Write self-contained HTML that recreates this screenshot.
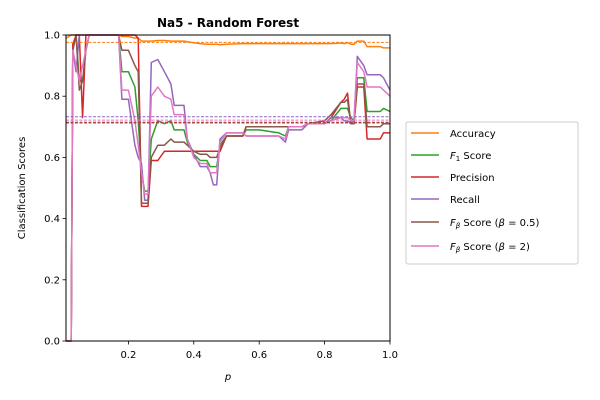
<!DOCTYPE html>
<html><head><meta charset="utf-8"><style>
html,body{margin:0;padding:0;background:#fff;width:600px;height:400px;overflow:hidden}
svg{display:block;font-family:"DejaVu Sans","Liberation Sans",sans-serif}
</style></head><body>
<svg id="chart" width="600" height="400"></svg>
<script>
const xs=[0.01,0.025,0.03,0.04,0.05,0.06,0.07,0.08,0.10,0.15,0.17,0.18,0.20,0.22,0.23,0.24,0.25,0.26,0.27,0.29,0.31,0.33,0.34,0.37,0.38,0.40,0.42,0.44,0.45,0.46,0.47,0.48,0.50,0.55,0.56,0.60,0.66,0.68,0.69,0.73,0.75,0.80,0.82,0.85,0.86,0.87,0.88,0.89,0.90,0.92,0.93,0.97,0.98,1.00];
const accuracy=[0.99,1,1,1,1,1,1,1, 1,1,1,0.995,0.995, 0.99,0.99,0.98,0.98,0.98,0.98,0.982, 0.982,0.98,0.98,0.98,0.978,0.975, 0.972,0.97,0.97,0.97,0.97,0.968, 0.97,0.972,0.972,0.972,0.972,0.972, 0.972,0.972,0.972,0.972,0.972,0.974, 0.972,0.975,0.97,0.97,0.98,0.98, 0.962,0.962,0.958,0.958];
const f1=[0,0,0.95,1,0.85,0.85,0.95,1, 1,1,1,0.88,0.88, 0.83,0.72,0.55,0.49,0.49,0.66,0.72, 0.71,0.72,0.69,0.69,0.65,0.61, 0.59,0.59,0.57,0.57,0.57,0.64, 0.67,0.67,0.69,0.69,0.68,0.67, 0.70,0.70,0.71,0.71,0.72,0.76, 0.76,0.76,0.73,0.72,0.86,0.86, 0.75,0.75,0.76,0.75];
const precision=[0,0,0.97,1,1,0.73,1,1, 1,1,1,1,1, 1,0.99,0.44,0.44,0.44,0.59,0.59, 0.62,0.62,0.62,0.62,0.62,0.62, 0.62,0.62,0.62,0.62,0.62,0.62, 0.67,0.67,0.70,0.70,0.70,0.70, 0.70,0.70,0.71,0.71,0.73,0.78, 0.79,0.81,0.71,0.71,0.83,0.83, 0.66,0.66,0.68,0.68];
const recall=[0,0,0.95,0.88,1,1,1,1, 1,1,1,0.79,0.79, 0.64,0.60,0.58,0.46,0.46,0.91,0.92, 0.88,0.84,0.77,0.77,0.66,0.61, 0.57,0.57,0.55,0.51,0.51,0.66, 0.68,0.68,0.67,0.67,0.67,0.65, 0.69,0.69,0.71,0.71,0.73,0.73, 0.72,0.72,0.71,0.72,0.93,0.90, 0.87,0.87,0.86,0.82];
const fb05=[0,0,0.95,1,0.82,0.85,0.95,1, 1,1,1,0.95,0.95, 0.90,0.88,0.45,0.45,0.45,0.60,0.64, 0.64,0.66,0.65,0.65,0.64,0.62, 0.61,0.61,0.60,0.60,0.60,0.63, 0.67,0.67,0.70,0.70,0.70,0.70, 0.70,0.70,0.71,0.72,0.74,0.78, 0.78,0.79,0.71,0.71,0.84,0.84, 0.70,0.70,0.71,0.71];
const fb2=[0,0,0.95,0.9,0.85,0.9,0.95,1, 1,1,1,0.82,0.82, 0.72,0.64,0.55,0.48,0.48,0.80,0.83, 0.80,0.79,0.74,0.74,0.66,0.60, 0.58,0.58,0.55,0.55,0.55,0.65, 0.68,0.68,0.67,0.67,0.67,0.66, 0.70,0.70,0.71,0.71,0.72,0.73, 0.73,0.73,0.72,0.72,0.91,0.88, 0.83,0.83,0.82,0.80];
const means=[0.976,0.713,0.715,0.733,0.713,0.722];
const seriesNames=["Accuracy","F1 Score","Precision","Recall","Fbeta 0.5","Fbeta 2"];
const colors=["#ff7f0e","#2ca02c","#d62728","#9467bd","#8c564b","#e377c2"];
const xTicks=[0.2,0.4,0.6,0.8,1.0];
const xTickLabels=["0.2","0.4","0.6","0.8","1.0"];
const yTicks=[0,0.2,0.4,0.6,0.8,1.0];
const yTickLabels=["0.0","0.2","0.4","0.6","0.8","1.0"];

const NS="http://www.w3.org/2000/svg";
const svg=document.getElementById('chart');
const L=66,R=390,T=35,B=341;
const xMin=0.0092,xMax=1.0;
const X=v=>L+(v-xMin)/(xMax-xMin)*(R-L);
const Y=v=>B-v*(B-T);
function mk(tag,attrs,parent){const e=document.createElementNS(NS,tag);for(const k in attrs)e.setAttribute(k,attrs[k]);(parent||svg).appendChild(e);return e;}

const clip=mk('clipPath',{id:'pc'});mk('rect',{x:L,y:T-1,width:R-L,height:B-T+2},clip);
const plot=mk('g',{'clip-path':'url(#pc)'});



const allSeries=[accuracy,f1,precision,recall,fb05,fb2];
allSeries.forEach((s,i)=>{
  const d=s.map((v,j)=>(j?'L':'M')+X(xs[j]).toFixed(1)+','+Y(v).toFixed(1)).join('');
  const p=mk('path',{d:d,fill:'none',stroke:colors[i],'stroke-width':1.5,'stroke-linejoin':'round'},plot);
  
  
});
means.forEach((m,i)=>{
  const l=mk('line',{x1:L,x2:R,y1:Y(m),y2:Y(m),stroke:colors[i],'stroke-width':1,'stroke-dasharray':'3,1.5'},plot);
  
  
});
const frame=mk('rect',{x:L,y:T,width:R-L,height:B-T,fill:'none',stroke:'#000','stroke-width':1});



xTicks.forEach((t,i)=>{
  mk('line',{x1:X(t),x2:X(t),y1:B,y2:B+3.5,stroke:'#000','stroke-width':0.8});
  const tx=mk('text',{x:X(t),y:B+17,'font-size':10,'text-anchor':'middle'});tx.textContent=xTickLabels[i];
  
  
});
yTicks.forEach((t,i)=>{
  mk('line',{x1:L-3.5,x2:L,y1:Y(t),y2:Y(t),stroke:'#000','stroke-width':0.8});
  const tx=mk('text',{x:L-6,y:Y(t)+3.5,'font-size':10,'text-anchor':'end'});tx.textContent=yTickLabels[i];
  
  
});
</script>
<svg width="600" height="400" style="position:absolute;left:0;top:0">
<text x="228" y="27" font-size="12" font-weight="bold" text-anchor="middle">Na5 - Random Forest</text>
<text x="228" y="380" font-size="10" font-style="italic" text-anchor="middle">p</text>
<text transform="translate(25,188) rotate(-90)" font-size="10" text-anchor="middle">Classification Scores</text>
<g font-size="10">
<rect x="406" y="122" width="172" height="142" rx="2" fill="#fff" stroke="#ccc"/>
<g><line x1="411" x2="439" y1="133" y2="133" stroke="#ff7f0e" stroke-width="1.5"/><text x="450" y="137">Accuracy</text></g>
<g><line x1="411" x2="439" y1="155" y2="155" stroke="#2ca02c" stroke-width="1.5"/><text x="450" y="159"><tspan font-style="italic">F</tspan><tspan font-size="7" dy="2">1</tspan><tspan dy="-2"> Score</tspan></text></g>
<g><line x1="411" x2="439" y1="177" y2="177" stroke="#d62728" stroke-width="1.5"/><text x="450" y="181">Precision</text></g>
<g><line x1="411" x2="439" y1="199" y2="199" stroke="#9467bd" stroke-width="1.5"/><text x="450" y="203">Recall</text></g>
<g><line x1="411" x2="439" y1="222" y2="222" stroke="#8c564b" stroke-width="1.5"/><text x="450" y="226"><tspan font-style="italic">F</tspan><tspan font-size="7" dy="2" font-style="italic">β</tspan><tspan dy="-2"> Score (</tspan><tspan font-style="italic">β</tspan><tspan> = 0.5)</tspan></text></g>
<g><line x1="411" x2="439" y1="246" y2="246" stroke="#e377c2" stroke-width="1.5"/><text x="450" y="250"><tspan font-style="italic">F</tspan><tspan font-size="7" dy="2" font-style="italic">β</tspan><tspan dy="-2"> Score (</tspan><tspan font-style="italic">β</tspan><tspan> = 2)</tspan></text></g>
</g>
</svg>
</body></html>
